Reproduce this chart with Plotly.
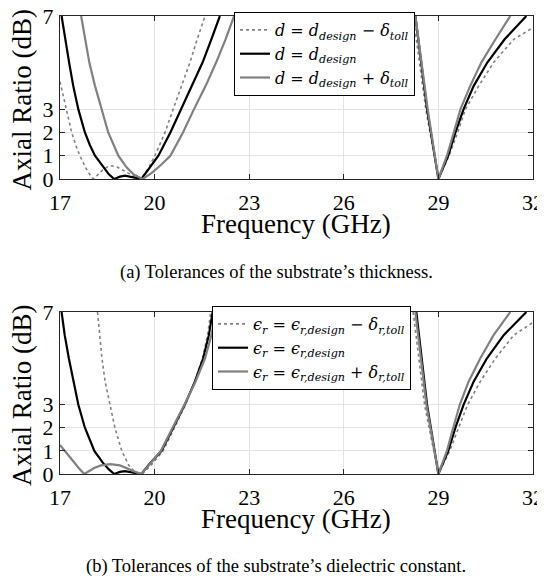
import plotly.graph_objects as go

# (a) substrate thickness tolerance -- None splits the part that leaves the 0..7 dB window
freq_a_minus = [17.0, 17.1, 17.21, 17.37, 17.5, 17.63, 17.8, 17.95, 18.06, 18.2, 18.35, 18.5, 18.64,
                18.8, 19.0, 19.2, 19.4, 19.57, 19.8, 20.01, 20.33, 20.59, 20.86, 21.12, 21.35, 21.6,
                None, 28.2, 28.6, 29.0, 29.34, 29.61, 29.86, 30.28, 30.75, 31.39, 32.0]
ar_a_minus = [4.18, 3.6, 3.0, 2.0, 1.45, 1.0, 0.52, 0.18, 0.0, 0.2, 0.38, 0.52, 0.57,
              0.52, 0.38, 0.22, 0.08, 0.0, 0.45, 1.0, 2.0, 3.0, 4.0, 5.0, 6.0, 7.0,
              None, 7.0, 3.0, 0.0, 1.0, 2.0, 3.0, 4.0, 5.0, 6.0, 6.5]

freq_a_design = [17.05, 17.16, 17.29, 17.42, 17.58, 17.79, 17.95, 18.11, 18.37, 18.55, 18.72, 18.9,
                 19.06, 19.25, 19.45, 19.58, 19.85, 20.12, 20.5, 20.84, 21.2, 21.52, 21.8, 22.07,
                 None, 28.27, 28.64, 29.0, 29.31, 29.54, 29.8, 30.12, 30.55, 31.1, 31.79]
ar_a_design = [7.0, 6.0, 5.0, 4.0, 3.0, 2.0, 1.45, 1.0, 0.5, 0.2, 0.0, 0.1,
               0.14, 0.1, 0.03, 0.0, 0.5, 1.0, 2.0, 3.0, 4.0, 5.0, 6.0, 7.0,
               None, 7.0, 3.0, 0.0, 1.0, 2.0, 3.0, 4.0, 5.0, 6.0, 7.0]

freq_a_plus = [17.67, 17.79, 17.93, 18.11, 18.32, 18.53, 18.85, 19.11, 19.35, 19.62, 19.9, 20.2,
               20.5, 20.9, 21.25, 21.62, 21.95, 22.25, 22.52,
               None, 28.27, 28.66, 29.0, 29.27, 29.49, 29.7, 30.01, 30.36, 30.81, 31.28]
ar_a_plus = [7.0, 6.0, 5.0, 4.0, 3.0, 2.0, 1.0, 0.5, 0.18, 0.0, 0.25, 0.6,
             1.0, 2.0, 3.0, 4.0, 5.0, 6.0, 7.0,
             None, 7.0, 3.0, 0.0, 1.0, 2.0, 3.0, 4.0, 5.0, 6.0, 7.0]

# (b) dielectric constant tolerance
freq_b_minus = [18.19, 18.26, 18.33, 18.43, 18.59, 18.74, 18.96, 19.17, 19.35, 19.6, 19.9, 20.27,
                20.63, 20.98, 21.28, 21.52, 21.68, 21.78,
                None, 28.2, 28.56, 29.0, 29.36, 29.64, 29.93, 30.33, 30.81, 31.39, 32.0]
ar_b_minus = [7.0, 6.0, 5.0, 4.0, 3.0, 2.0, 1.0, 0.4, 0.12, 0.0, 0.4, 1.0,
              2.0, 3.0, 4.0, 5.0, 6.0, 7.0,
              None, 7.0, 3.0, 0.0, 1.0, 2.0, 3.0, 4.0, 5.0, 6.0, 6.55]

freq_b_design = [17.05, 17.15, 17.28, 17.42, 17.58, 17.79, 18.09, 18.35, 18.55, 18.72, 18.9, 19.06,
                 19.25, 19.45, 19.58, 19.85, 20.22, 20.59, 20.96, 21.28, 21.54, 21.72, 21.84,
                 None, 28.3, 28.64, 29.0, 29.31, 29.54, 29.8, 30.12, 30.54, 31.07, 31.79]
ar_b_design = [7.0, 6.0, 5.0, 4.0, 3.0, 2.0, 1.0, 0.5, 0.2, 0.0, 0.09, 0.12,
               0.09, 0.03, 0.0, 0.45, 1.0, 2.0, 3.0, 4.0, 5.0, 6.0, 7.0,
               None, 7.0, 3.0, 0.0, 1.0, 2.0, 3.0, 4.0, 5.0, 6.0, 7.0]

freq_b_plus = [17.0, 17.2, 17.4, 17.6, 17.77, 17.9, 18.1, 18.3, 18.6, 18.9, 19.1, 19.3, 19.5, 19.58,
               19.85, 20.2, 20.57, 20.95, 21.3, 21.6, 21.8, 21.95,
               None, 28.27, 28.62, 29.0, 29.27, 29.47, 29.68, 29.96, 30.33, 30.75, 31.28]
ar_b_plus = [1.25, 0.9, 0.57, 0.25, 0.0, 0.12, 0.27, 0.37, 0.43, 0.37, 0.25, 0.13, 0.03, 0.0,
             0.45, 1.0, 2.0, 3.0, 4.0, 5.0, 6.0, 7.0,
             None, 7.0, 3.0, 0.0, 1.0, 2.0, 3.0, 4.0, 5.0, 6.0, 7.0]

x_ticks = [17, 20, 23, 26, 29, 32]
y_ticks = [0, 1, 2, 3, 7]

names_a = ["<i>d</i> = <i>d<sub>design</sub></i> − <i>δ<sub>toll</sub></i>",
           "<i>d</i> = <i>d<sub>design</sub></i>",
           "<i>d</i> = <i>d<sub>design</sub></i> + <i>δ<sub>toll</sub></i>"]
names_b = ["<i>ϵ<sub>r</sub></i> = <i>ϵ<sub>r,design</sub></i> − <i>δ<sub>r,toll</sub></i>",
           "<i>ϵ<sub>r</sub></i> = <i>ϵ<sub>r,design</sub></i>",
           "<i>ϵ<sub>r</sub></i> = <i>ϵ<sub>r,design</sub></i> + <i>δ<sub>r,toll</sub></i>"]

GRAY = "#808080"
SERIF = "Liberation Serif"
styles = [dict(color=GRAY, width=1.6, dash="dot"),
          dict(color="black", width=2.2),
          dict(color=GRAY, width=2.2)]

# the page puts the plot 8px in from the top-left corner, so lay it out in page px minus 8
W, H, OFF = 537, 574, 8


def px(x):
    return (x - OFF) / W


def py(y):
    return 1 - (y - OFF) / H


fig = go.Figure()
series_a = [(freq_a_minus, ar_a_minus), (freq_a_design, ar_a_design), (freq_a_plus, ar_a_plus)]
series_b = [(freq_b_minus, ar_b_minus), (freq_b_design, ar_b_design), (freq_b_plus, ar_b_plus)]
for (fx, ar), name, st in zip(series_a, names_a, styles):
    fig.add_trace(go.Scatter(x=fx, y=ar, mode="lines", name=name, line=st,
                             connectgaps=False, xaxis="x", yaxis="y", legend="legend"))
for (fx, ar), name, st in zip(series_b, names_b, styles):
    fig.add_trace(go.Scatter(x=fx, y=ar, mode="lines", name=name, line=st,
                             connectgaps=False, xaxis="x2", yaxis="y2", legend="legend2"))

tick_font = dict(family=SERIF, size=22, color="black")
title_font = dict(family=SERIF, size=27, color="black")
common = dict(showline=True, linecolor="#262626", linewidth=1, mirror="allticks",
              ticks="inside", ticklen=5, tickcolor="#262626", showgrid=True,
              gridcolor="#e3e3e3", gridwidth=1, zeroline=False, tickfont=tick_font,
              automargin=False, ticklabeloverflow="allow")

x_dom = [px(60), px(533)]
xa = dict(common, range=[17, 32], tickvals=x_ticks, domain=x_dom, ticklabelstandoff=4)
ya = dict(common, range=[0, 7], tickvals=y_ticks, ticklabelstandoff=1)

legend_common = dict(bgcolor="white", bordercolor="black", borderwidth=1,
                     font=dict(family="DejaVu Serif", size=16, color="black"),
                     xanchor="left", yanchor="top", tracegroupgap=0, itemwidth=30)

titles = []
for top, bottom in [(16, 179), (312, 474)]:
    titles.append(dict(text="Frequency (GHz)", xref="paper", yref="paper", x=px(296),
                       y=py(bottom + 45), showarrow=False, yanchor="middle",
                       font=title_font))
    titles.append(dict(text="Axial Ratio (dB)", xref="paper", yref="paper", x=px(22),
                       y=py((top + bottom) / 2 + 3), showarrow=False, textangle=-90,
                       xanchor="center", yanchor="middle", font=title_font))

fig.update_layout(
    width=W, height=H,
    margin=dict(l=0, r=0, t=0, b=0),
    font=dict(family=SERIF, color="black"),
    paper_bgcolor="white", plot_bgcolor="white",
    xaxis=dict(xa, anchor="y"),
    yaxis=dict(ya, domain=[py(179), py(16)], anchor="x"),
    xaxis2=dict(xa, anchor="y2"),
    yaxis2=dict(ya, domain=[py(474), py(312)], anchor="x2"),
    legend=dict(legend_common, x=px(234), y=py(12)),
    legend2=dict(legend_common, x=px(212), y=py(306)),
    annotations=titles + [
        dict(text="(a) Tolerances of the substrate’s thickness.", xref="paper", yref="paper",
             x=px(276), y=py(272), showarrow=False, yanchor="middle",
             font=dict(family=SERIF, size=18.5, color="black")),
        dict(text="(b) Tolerances of the substrate’s dielectric constant.", xref="paper",
             yref="paper", x=px(276), y=py(566), showarrow=False, yanchor="middle",
             font=dict(family=SERIF, size=18.5, color="black")),
    ],
)

fig.write_html("out.html")
